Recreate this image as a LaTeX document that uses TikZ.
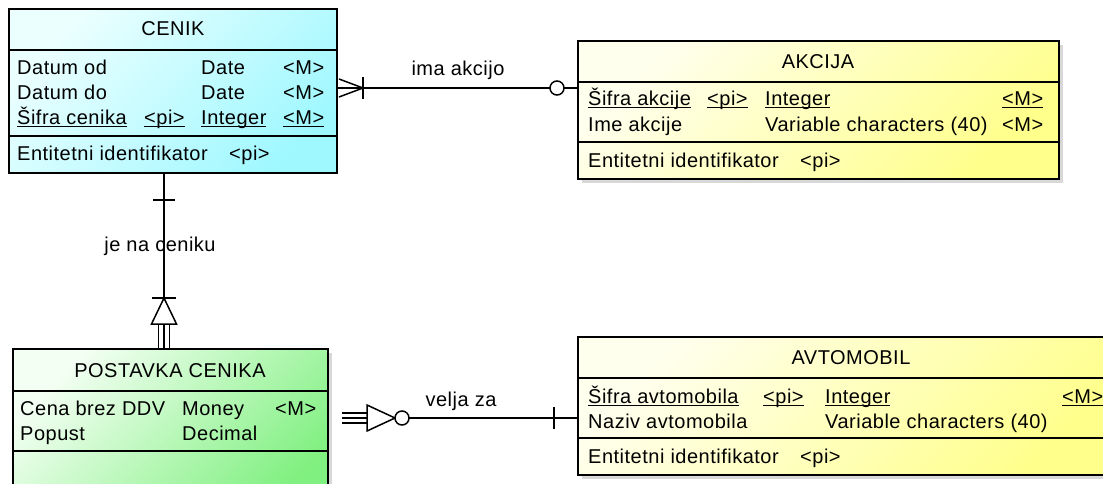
\documentclass[tikz,border=0pt]{standalone}
\usepackage{fontspec}
\setmainfont{Liberation Sans}[LetterSpace=2.5]
\usetikzlibrary{calc,shapes,arrows,fit,positioning,shadows}

\definecolor{cenikA}{RGB}{236,255,255}
\definecolor{cenikB}{RGB}{160,248,255}
\definecolor{akcijaA}{RGB}{255,255,238}
\definecolor{akcijaB}{RGB}{255,255,140}
\definecolor{postavkaA}{RGB}{244,255,244}
\definecolor{postavkaB}{RGB}{128,240,128}

\newcommand{\erfont}{\fontsize{20}{24}\selectfont}
\newcommand{\ulattr}[1]{\setbox0=\hbox{#1}\rlap{\rule[-3pt]{\wd0}{1.3pt}}\box0}

\tikzset{
  entity/.style={draw=black, line width=1.6pt, rectangle, anchor=north west, outer sep=0pt},
  modra/.style={entity, top color=cenikA, bottom color=cenikB, shading angle=45},
  rumena/.style={entity, top color=akcijaA, bottom color=akcijaB, shading angle=45,
    drop shadow={shadow xshift=4pt, shadow yshift=-4pt, fill=black!30}},
  zelena/.style={entity, top color=postavkaA, bottom color=postavkaB, shading angle=45,
    drop shadow={shadow xshift=4pt, shadow yshift=-4pt, fill=black!30}},
  sep/.style={line width=1.6pt},
  attr/.style={anchor=base west},
  naslov/.style={anchor=base},
  rel/.style={line width=1.5pt}
}

\begin{document}
\begin{tikzpicture}[x=1pt,y=1pt]
  \tikzstyle{every node}+=[inner sep=0pt, font=\erfont]
  \useasboundingbox (0,0) rectangle (1103,-483);
  \clip (0,0) rectangle (1103,-483);

  % CENIK
  \node[modra, minimum width=328pt, minimum height=164pt] (cenik) at (9,-9) {};
  \draw[sep] (cenik.west |- 0,-50) -- (cenik.east |- 0,-50);
  \draw[sep] (cenik.west |- 0,-136) -- (cenik.east |- 0,-136);
  \node[naslov] (cenikT) at (173,-35) {CENIK};
  \node[attr] (c1a) at (17,-74) {Datum od};
  \node[attr] (c1b) at (201,-74) {Date};
  \node[attr] (c1c) at (283,-74) {<M>};
  \node[attr] (c2a) at (17,-99) {Datum do};
  \node[attr] (c2b) at (201,-99) {Date};
  \node[attr] (c2c) at (283,-99) {<M>};
  \node[attr] (c3a) at (17,-124) {\ulattr{Šifra cenika}};
  \node[attr] (c3p) at (144,-124) {\ulattr{<pi>}};
  \node[attr] (c3b) at (201,-124) {\ulattr{Integer}};
  \node[attr] (c3c) at (283,-124) {\ulattr{<M>}};
  \node[attr] (cId) at (17,-160) {Entitetni identifikator};
  \node[attr] (cIdp) at (229,-160) {<pi>};

  % AKCIJA
  \node[rumena, minimum width=481pt, minimum height=138pt] (akcija) at (578,-41) {};
  \draw[sep] (akcija.west |- 0,-82) -- (akcija.east |- 0,-82);
  \draw[sep] (akcija.west |- 0,-142) -- (akcija.east |- 0,-142);
  \node[naslov] (akcijaT) at (818,-68) {AKCIJA};
  \node[attr] (a1a) at (588,-105) {\ulattr{Šifra akcije}};
  \node[attr] (a1p) at (707,-105) {\ulattr{<pi>}};
  \node[attr] (a1b) at (765,-105) {\ulattr{Integer}};
  \node[attr] (a1c) at (1002,-105) {\ulattr{<M>}};
  \node[attr] (a2a) at (588,-131) {Ime akcije};
  \node[attr] (a2b) at (765,-131) {Variable characters (40)};
  \node[attr] (a2c) at (1002,-131) {<M>};
  \node[attr] (aId) at (588,-167) {Entitetni identifikator};
  \node[attr] (aIdp) at (800,-167) {<pi>};

  % POSTAVKA CENIKA
  \node[zelena, minimum width=315pt, minimum height=170pt] (postavka) at (13,-349) {};
  \draw[sep] (postavka.west |- 0,-391) -- (postavka.east |- 0,-391);
  \draw[sep] (postavka.west |- 0,-451) -- (postavka.east |- 0,-451);
  \node[naslov] (postavkaT) at (170,-377) {POSTAVKA CENIKA};
  \node[attr] (p1a) at (20,-415) {Cena brez DDV};
  \node[attr] (p1b) at (182,-415) {Money};
  \node[attr] (p1c) at (275,-415) {<M>};
  \node[attr] (p2a) at (20,-440) {Popust};
  \node[attr] (p2b) at (182,-440) {Decimal};

  % AVTOMOBIL
  \node[rumena, minimum width=546pt, minimum height=138pt] (avtomobil) at (578,-337) {};
  \draw[sep] (avtomobil.west |- 0,-378) -- (avtomobil.east |- 0,-378);
  \draw[sep] (avtomobil.west |- 0,-438) -- (avtomobil.east |- 0,-438);
  \node[naslov] (avtomobilT) at (851,-364) {AVTOMOBIL};
  \node[attr] (v1a) at (588,-403) {\ulattr{Šifra avtomobila}};
  \node[attr] (v1p) at (763,-403) {\ulattr{<pi>}};
  \node[attr] (v1b) at (825,-403) {\ulattr{Integer}};
  \node[attr] (v1c) at (1062,-403) {\ulattr{<M>}};
  \node[attr] (v2a) at (588,-428) {Naziv avtomobila};
  \node[attr] (v2b) at (825,-428) {Variable characters (40)};
  \node[attr] (vId) at (588,-463) {Entitetni identifikator};
  \node[attr] (vIdp) at (800,-463) {<pi>};

  % ima akcijo
  \coordinate (ima) at (450,-88);
  \draw[rel] (cenik.east |- ima) -- (akcija.west |- ima);
  \draw[rel] ($(cenik.east |- ima)+(2,9)$) -- ($(cenik.east |- ima)+(26,0)$) -- ($(cenik.east |- ima)+(2,-9)$);
  \draw[rel] ($(cenik.east |- ima)+(26,11)$) -- ($(cenik.east |- ima)+(26,-11)$);
  \draw[rel, fill=white] ($(akcija.west |- ima)+(-21,0)$) circle (7pt);
  \node[naslov] (imaL) at (458,-75) {ima akcijo};

  % je na ceniku
  \coordinate (jena) at (164,-250);
  \coordinate (jnV) at ($(postavka.north -| jena)+(0,51)$);
  \draw[rel] (cenik.south -| jena) -- (jnV);
  \draw[rel] ($(cenik.south -| jena)+(-11,-27)$) -- ++(22,0);
  \draw[rel] ($(jnV)+(-12,0)$) -- ++(24,0);
  \draw[rel, fill=white] (jnV) -- ++(12.5,-26) -- ++(-25,0) -- cycle;
  \foreach \dx in {-5.5,0,5.5}
    \draw[rel] ($(jnV)+(\dx,-26)$) -- ($(postavka.north -| jena)+(\dx,0)$);
  \node[naslov] (jenaL) at (160,-251) {je na ceniku};

  % velja za
  \coordinate (velja) at (460,-418);
  \coordinate (vzA) at ($(postavka.east |- velja)+(14,0)$);
  \foreach \dy in {-5,0,5}
    \draw[rel] ($(vzA)+(0,\dy)$) -- ++(25,0);
  \draw[rel, fill=white] ($(vzA)+(25,13)$) -- ($(vzA)+(53,0)$) -- ($(vzA)+(25,-13)$) -- cycle;
  \draw[rel, fill=white] ($(vzA)+(60,0)$) circle (7pt);
  \draw[rel] ($(vzA)+(67,0)$) -- (avtomobil.west |- velja);
  \draw[rel] ($(avtomobil.west |- velja)+(-24,11)$) -- ++(0,-22);
  \node[naslov] (veljaL) at (461,-406) {velja za};
\end{tikzpicture}
\end{document}
